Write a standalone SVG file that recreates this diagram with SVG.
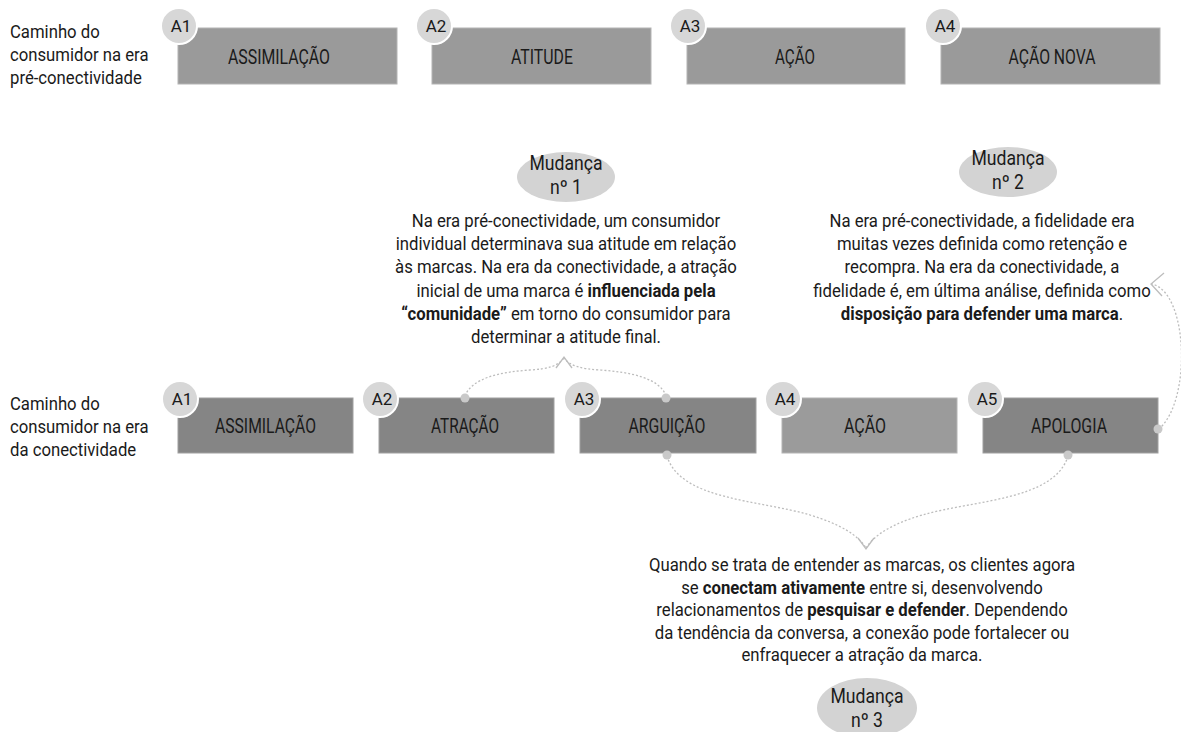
<svg xmlns="http://www.w3.org/2000/svg" width="1181" height="732" viewBox="0 0 1181 732">
  <style>
    text { font-family: Roboto, "Liberation Sans", sans-serif; fill: #1a1a1a; }
    .side { font-size: 19px; }
    .body { font-size: 19px; text-anchor: middle; }
    .bub { font-size: 20px; text-anchor: middle; }
    .b { font-weight: bold; }
    .lbl { font-size: 21px; text-anchor: middle; }
    .tag { font-size: 17px; text-anchor: middle; }
    .box-old { fill: #9a9a9a; stroke: #b4b4b4; stroke-width: 1; }
    .box-dark { fill: #858585; stroke: #a0a0a0; stroke-width: 1; }
    .box-light { fill: #9b9b9b; stroke: #b4b4b4; stroke-width: 1; }
    .badge { fill: #d7d7d7; stroke: #ffffff; stroke-width: 2; }
    .bubble { fill: #d3d3d3; }
    .link { fill: none; stroke: #bdbdbd; stroke-width: 1.3; stroke-dasharray: 2 2; }
    .head { fill: none; stroke: #bdbdbd; stroke-width: 1.3; }
    .dot { fill: #c9c9c9; }
  </style>

  <!-- Row labels (condensed type) -->
  <g id="row-pre" transform="translate(10 0) scale(0.88 1)">
    <text class="side" x="0" y="38">Caminho do</text>
    <text class="side" x="0" y="61">consumidor na era</text>
    <text class="side" x="0" y="84">pré-conectividade</text>
  </g>
  <g id="row-conn" transform="translate(10 0) scale(0.88 1)">
    <text class="side" x="0" y="410">Caminho do</text>
    <text class="side" x="0" y="433">consumidor na era</text>
    <text class="side" x="0" y="456">da conectividade</text>
  </g>

  <!-- Pre-connectivity path -->
  <g id="pre-a1">
    <rect class="box-old" x="178" y="28" width="219" height="56"/>
    <text class="lbl" x="279" y="64" textLength="102" lengthAdjust="spacingAndGlyphs">ASSIMILAÇÃO</text>
    <circle class="badge" cx="179" cy="26" r="18"/>
    <text class="tag" x="181" y="32">A1</text>
  </g>
  <g id="pre-a2">
    <rect class="box-old" x="432" y="28" width="219" height="56"/>
    <text class="lbl" x="542" y="64" textLength="62" lengthAdjust="spacingAndGlyphs">ATITUDE</text>
    <circle class="badge" cx="434" cy="26" r="18"/>
    <text class="tag" x="436" y="32">A2</text>
  </g>
  <g id="pre-a3">
    <rect class="box-old" x="687" y="28" width="218" height="56"/>
    <text class="lbl" x="795" y="64" textLength="40" lengthAdjust="spacingAndGlyphs">AÇÃO</text>
    <circle class="badge" cx="688" cy="26" r="18"/>
    <text class="tag" x="690" y="32">A3</text>
  </g>
  <g id="pre-a4">
    <rect class="box-old" x="941" y="28" width="219" height="56"/>
    <text class="lbl" x="1052" y="64" textLength="87" lengthAdjust="spacingAndGlyphs">AÇÃO NOVA</text>
    <circle class="badge" cx="943" cy="26" r="18"/>
    <text class="tag" x="945" y="32">A4</text>
  </g>

  <!-- Connectivity path -->
  <g id="conn-a1">
    <rect class="box-dark" x="178" y="398" width="175" height="55"/>
    <text class="lbl" x="265.5" y="433" textLength="101" lengthAdjust="spacingAndGlyphs">ASSIMILAÇÃO</text>
    <circle class="badge" cx="180" cy="399" r="18"/>
    <text class="tag" x="182" y="405">A1</text>
  </g>
  <g id="conn-a2">
    <rect class="box-dark" x="379" y="398" width="175" height="55"/>
    <text class="lbl" x="465" y="433" textLength="68" lengthAdjust="spacingAndGlyphs">ATRAÇÃO</text>
    <circle class="badge" cx="380" cy="399" r="18"/>
    <text class="tag" x="382" y="405">A2</text>
  </g>
  <g id="conn-a3">
    <rect class="box-dark" x="580" y="398" width="176" height="55"/>
    <text class="lbl" x="667" y="433" textLength="77" lengthAdjust="spacingAndGlyphs">ARGUIÇÃO</text>
    <circle class="badge" cx="582" cy="399" r="18"/>
    <text class="tag" x="584" y="405">A3</text>
  </g>
  <g id="conn-a4">
    <rect class="box-light" x="782" y="398" width="175" height="55"/>
    <text class="lbl" x="865" y="433" textLength="42" lengthAdjust="spacingAndGlyphs">AÇÃO</text>
    <circle class="badge" cx="783" cy="399" r="18"/>
    <text class="tag" x="785" y="405">A4</text>
  </g>
  <g id="conn-a5">
    <rect class="box-dark" x="983" y="398" width="175" height="55"/>
    <text class="lbl" x="1069" y="433" textLength="76" lengthAdjust="spacingAndGlyphs">APOLOGIA</text>
    <circle class="badge" cx="985" cy="399" r="18"/>
    <text class="tag" x="987" y="405">A5</text>
  </g>

  <!-- Shift 1 -->
  <g id="shift-1">
    <ellipse class="bubble" cx="566" cy="177" rx="49" ry="25"/>
    <g transform="translate(566 0) scale(0.88 1)">
      <text class="bub" x="0" y="170">Mudança</text>
      <text class="bub" x="0" y="194">nº 1</text>
      <text class="body" x="0" y="227">Na era pré-conectividade, um consumidor</text>
      <text class="body" x="0" y="250">individual determinava sua atitude em relação</text>
      <text class="body" x="0" y="273">às marcas. Na era da conectividade, a atração</text>
      <text class="body" x="0" y="297">inicial de uma marca é <tspan class="b">influenciada pela</tspan></text>
      <text class="body" x="0" y="320"><tspan class="b">“comunidade”</tspan> em torno do consumidor para</text>
      <text class="body" x="0" y="343">determinar a atitude final.</text>
    </g>
  </g>

  <!-- Shift 2 -->
  <g id="shift-2">
    <ellipse class="bubble" cx="1008" cy="172" rx="49" ry="25"/>
    <g transform="translate(1008 0) scale(0.88 1)">
      <text class="bub" x="0" y="165">Mudança</text>
      <text class="bub" x="0" y="189">nº 2</text>
    </g>
    <g transform="translate(982 0) scale(0.88 1)">
      <text class="body" x="0" y="227">Na era pré-conectividade, a fidelidade era</text>
      <text class="body" x="0" y="250">muitas vezes definida como retenção e</text>
      <text class="body" x="0" y="273">recompra. Na era da conectividade, a</text>
      <text class="body" x="0" y="297">fidelidade é, em última análise, definida como</text>
      <text class="body" x="0" y="320"><tspan class="b">disposição para defender uma marca</tspan>.</text>
    </g>
  </g>

  <!-- Shift 3 -->
  <g id="shift-3">
    <g transform="translate(862 0) scale(0.88 1)">
      <text class="body" x="0" y="571">Quando se trata de entender as marcas, os clientes agora</text>
      <text class="body" x="0" y="594">se <tspan class="b">conectam ativamente</tspan> entre si, desenvolvendo</text>
      <text class="body" x="0" y="616">relacionamentos de <tspan class="b">pesquisar e defender</tspan>. Dependendo</text>
      <text class="body" x="0" y="639">da tendência da conversa, a conexão pode fortalecer ou</text>
      <text class="body" x="0" y="661">enfraquecer a atração da marca.</text>
    </g>
    <ellipse class="bubble" cx="867" cy="708" rx="50" ry="30"/>
    <g transform="translate(867 0) scale(0.88 1)">
      <text class="bub" x="0" y="703">Mudança</text>
      <text class="bub" x="0" y="727">nº 3</text>
    </g>
  </g>

  <!-- Connectors -->
  <g id="connectors">
    <path class="link" d="M465,396 C472,378 500,372 530,370 C548,369 558,366 564,358"/>
    <path class="link" d="M666,396 C660,378 630,372 600,370 C582,369 570,366 564,358"/>
    <path class="head" d="M556,368 L564,357 L572,368"/>
    <circle class="dot" cx="465" cy="398" r="4.5"/>
    <circle class="dot" cx="666" cy="398" r="4.5"/>

    <path class="link" d="M667,456 C680,500 760,500 810,515 C840,524 858,535 866,548"/>
    <path class="link" d="M1068,456 C1055,500 975,500 922,515 C892,524 874,535 866,548"/>
    <path class="head" d="M858,538 L866,549 L874,538"/>
    <circle class="dot" cx="667" cy="455" r="4.5"/>
    <circle class="dot" cx="1068" cy="455" r="4.5"/>

    <path class="link" d="M1159,429 C1192,400 1188,292 1152,284"/>
    <path class="head" d="M1164,273 L1151,284 L1162,296"/>
    <circle class="dot" cx="1158" cy="429" r="4.5"/>
  </g>
</svg>
